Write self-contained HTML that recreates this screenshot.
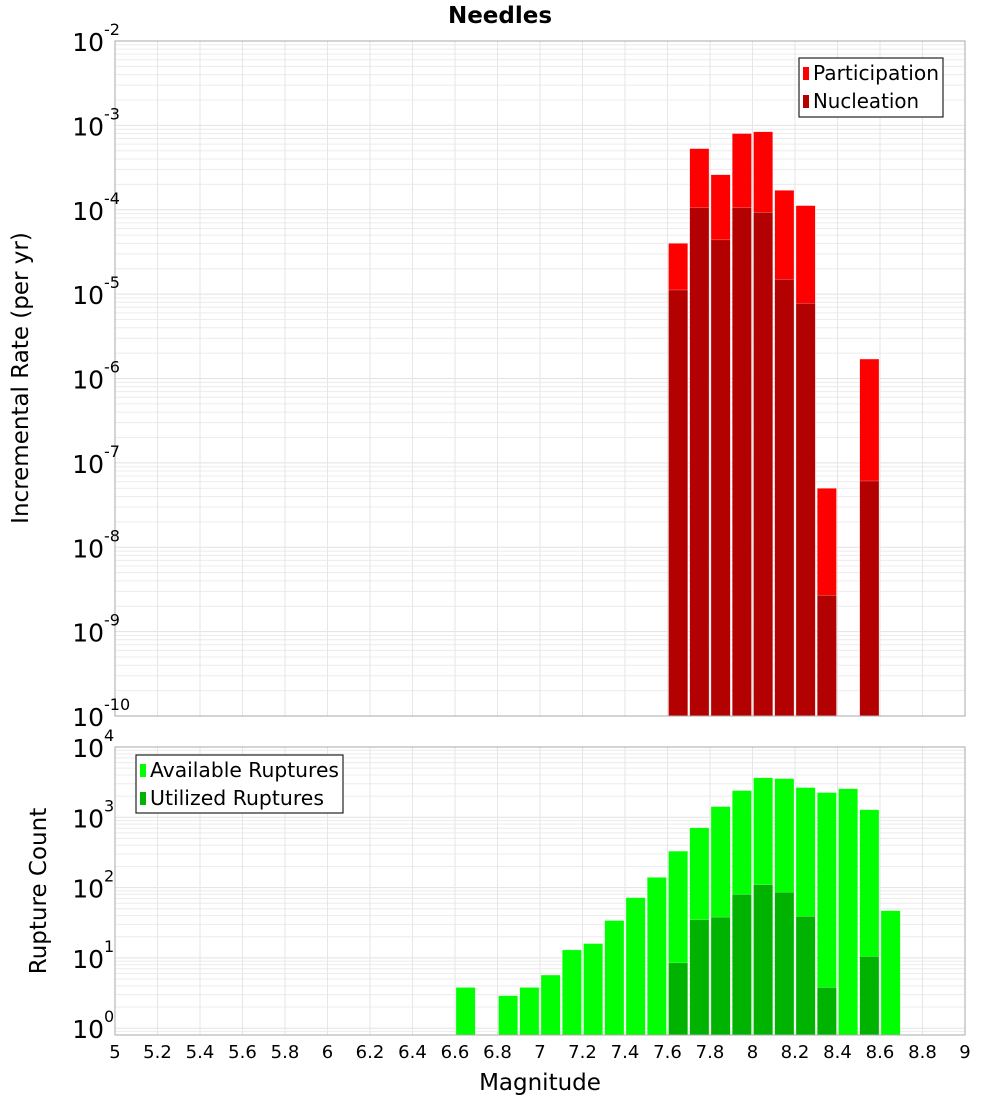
<!DOCTYPE html>
<html><head><meta charset="utf-8"><style>
body{margin:0;background:#fff}
svg{display:block;font-family:"DejaVu Sans","Liberation Sans",sans-serif}
</style></head><body>
<svg id="c" width="1000" height="1100" xmlns="http://www.w3.org/2000/svg"></svg>
<script>
const binCenters=[6.65,6.75,6.85,6.95,7.05,7.15,7.25,7.35,7.45,7.55,7.65,7.75,7.85,7.95,8.05,8.15,8.25,8.35,8.45,8.55,8.65];
const participation=[0,0,0,0,0,0,0,0,0,0,4.0e-5,5.3e-4,2.6e-4,8.0e-4,8.4e-4,1.7e-4,1.12e-4,5.0e-8,0,1.7e-6,0];
const nucleation=[0,0,0,0,0,0,0,0,0,0,1.12e-5,1.06e-4,4.4e-5,1.06e-4,9.3e-5,1.5e-5,7.8e-6,2.7e-9,0,6.1e-8,0];
const available=[3.8,0,2.9,3.8,5.7,13,16,34,72,140,330,710,1420,2400,3650,3550,2650,2250,2550,1280,47];
const utilized=[0,0,0,0,0,0,0,0,0,0,8.5,35,38,80,110,86,39,3.8,0,10.5,0];
const xTicks=[5,5.2,5.4,5.6,5.8,6,6.2,6.4,6.6,6.8,7,7.2,7.4,7.6,7.8,8,8.2,8.4,8.6,8.8,9];
const topExps=[-2,-3,-4,-5,-6,-7,-8,-9,-10];
const botExps=[4,3,2,1,0];

const NS="http://www.w3.org/2000/svg",svg=document.getElementById('c');
function el(t,a,p){const e=document.createElementNS(NS,t);for(const k in a)e.setAttribute(k,a[k]);(p||svg).appendChild(e);return e;}
const L=115,R=965;
const xs=v=>L+(v-5)/4*(R-L);
const T1=41,B1=716,yT=v=>T1+(-2-Math.log10(v))*(B1-T1)/8;
const T2=747,B2=1035,dec2=70.3,yB=v=>T2+(4-Math.log10(v))*dec2;
const bw=(R-L)/40;

function grid(top,bot,ys,minExp,maxExp){
  for(let e=minExp;e<maxExp;e++)for(let m=1;m<10;m++){const y=ys(m*Math.pow(10,e));if(y>=top&&y<=bot){const g=el('line',{x1:L,x2:R,y1:y,y2:y,stroke:m==1?'#e2e2e2':'#ececec','stroke-width':1});}}
  xTicks.forEach(t=>{const g=el('line',{x1:xs(t),x2:xs(t),y1:top,y2:bot,stroke:'#e6e6e6'});});
}
grid(T1,B1,yT,-10,-1);
grid(T2,B2,yB,-1,5);

function bars(vals,ys,bot,fill,name){
  vals.forEach((v,i)=>{if(v<=0)return;const x=xs(binCenters[i])-bw/2+1;const y=Math.max(ys(v),0);
    const r=el('rect',{x:x,y:y,width:bw-2,height:bot-y,fill:fill,stroke:'#fff','stroke-opacity':0.5,'stroke-width':0.5});
    });
}
bars(participation,yT,B1,'#ff0000','participation-bar');
bars(nucleation,yT,B1,'#b30000','nucleation-bar');
bars(available,yB,B2,'#00ff00','available-bar');
bars(utilized,yB,B2,'#00b300','utilized-bar');

[[T1,B1,'top-plot-frame'],[T2,B2,'bottom-plot-frame']].forEach(f=>{const r=el('rect',{x:L,y:f[0],width:R-L,height:f[1]-f[0],fill:'none',stroke:'#aaa'});});

function ylab(exp,y,name){const t=el('text',{x:104,y:y+10,'text-anchor':'end','font-size':25,fill:'#000'});
  t.textContent='10';const s=el('tspan',{x:104,dy:-16,'font-size':16,'text-anchor':'start'},t);s.textContent=exp;}
topExps.forEach(e=>ylab(e,yT(Math.pow(10,e)),'top-y-tick-label'));
botExps.forEach(e=>ylab(e,yB(Math.pow(10,e)),'bottom-y-tick-label'));
xTicks.forEach(t=>{const e=el('text',{x:xs(t),y:1058,'text-anchor':'middle','font-size':18});e.textContent=String(t);});

function txt(s,a,name){const e=el('text',a);e.textContent=s;return e;}
txt('Needles',{x:500,y:23,'text-anchor':'middle','font-size':23,'font-weight':'bold'},'chart-title');
txt('Magnitude',{x:540,y:1090,'text-anchor':'middle','font-size':23},'x-axis-title');
txt('Incremental Rate (per yr)',{x:0,y:0,'text-anchor':'middle','font-size':23,transform:'translate(28,378) rotate(-90)'},'top-y-axis-title');
txt('Rupture Count',{x:0,y:0,'text-anchor':'middle','font-size':23,transform:'translate(46,891) rotate(-90)'},'bottom-y-axis-title');

function legend(x,y,w,h,items,name){const g=el('g',{});
  el('rect',{x:x,y:y,width:w,height:h,fill:'#fff',stroke:'#222','stroke-width':1.2},g);
  items.forEach((it,i)=>{const cy=y+15+i*28;el('rect',{x:x+4,y:cy-6,width:6,height:13,fill:it[1]},g);
    const t=el('text',{x:x+14,y:cy+7,'font-size':20,textLength:it[2],lengthAdjust:'spacingAndGlyphs'},g);t.textContent=it[0];});}
legend(799,58,144,59,[['Participation','#ff0000',126],['Nucleation','#b30000',106]],'top-legend');
legend(136,755,207,58,[['Available Ruptures','#00ff00',189],['Utilized Ruptures','#00b300',174]],'bottom-legend');
</script>
</body></html>
